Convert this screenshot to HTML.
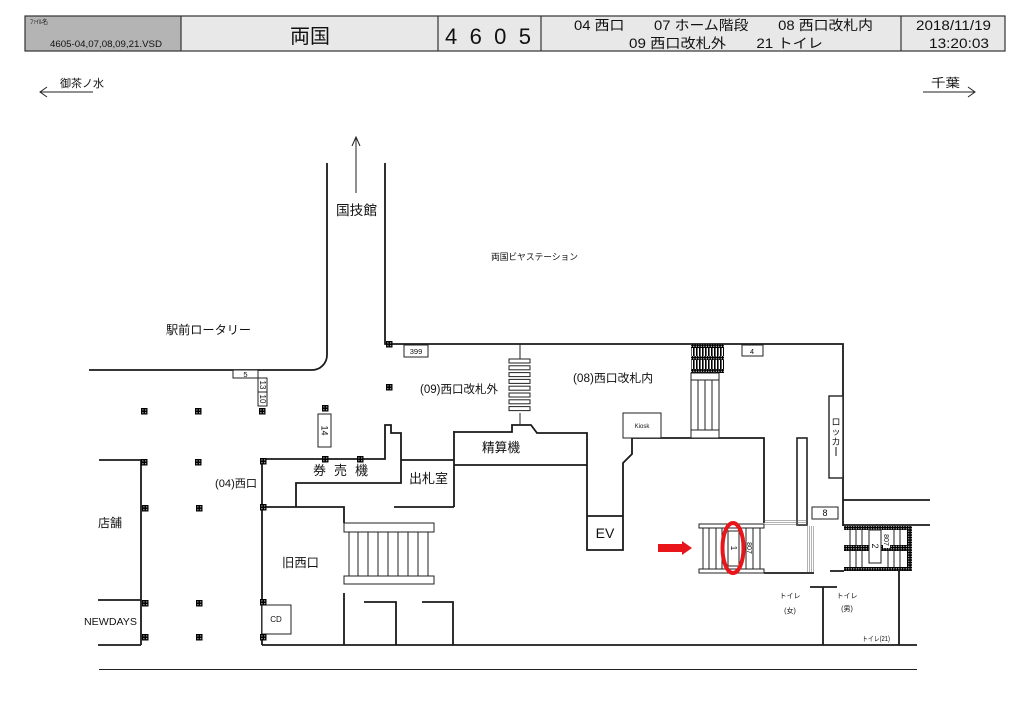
<!DOCTYPE html>
<html>
<head>
<meta charset="utf-8">
<style>
html,body{margin:0;padding:0;background:#fff;}
svg{display:block;}
text{font-family:"Liberation Sans","Noto Sans CJK JP",sans-serif;fill:#111;}
</style>
</head>
<body>
<svg width="1024" height="724" viewBox="0 0 1024 724" xmlns="http://www.w3.org/2000/svg">
<defs>
<pattern id="hatch" width="2.5" height="2.5" patternUnits="userSpaceOnUse"><rect width="2.5" height="2.5" fill="#000"/><rect x="0.8" y="0.8" width="1" height="1" fill="#fff"/></pattern>
<pattern id="vstripe" width="3" height="3" patternUnits="userSpaceOnUse"><rect width="3" height="3" fill="#fff"/><rect width="1.6" height="3" fill="#000"/></pattern>
<g id="pil"><rect x="-3" y="-3" width="6.5" height="6.5" fill="#000"/><rect x="-1.6" y="-1.6" width="1" height="1" fill="#fff"/><rect x="1.2" y="-1.6" width="1" height="1" fill="#fff"/><rect x="-1.6" y="1.2" width="1" height="1" fill="#fff"/><rect x="1.2" y="1.2" width="1" height="1" fill="#fff"/></g>
</defs>

<!-- Header -->
<rect x="25" y="16" width="156" height="35" fill="#b4b4b4"/>
<rect x="181" y="16" width="824" height="35" fill="#e8e8e8"/>
<g fill="none" stroke="#333" stroke-width="1.2">
<rect x="25" y="16" width="980" height="35"/>
<line x1="181" y1="16" x2="181" y2="51"/>
<line x1="438" y1="16" x2="438" y2="51"/>
<line x1="541" y1="16" x2="541" y2="51"/>
<line x1="901" y1="16" x2="901" y2="51"/>
</g>
<text x="30" y="24" font-size="6">ﾌｧｲﾙ名</text>
<text x="50" y="47" font-size="9" textLength="112" lengthAdjust="spacingAndGlyphs">4605-04,07,08,09,21.VSD</text>
<text x="310" y="43" font-size="20" text-anchor="middle">両国</text>
<text x="445" y="44" font-size="22" textLength="86" lengthAdjust="spacing">4605</text>
<text x="574" y="30" font-size="13.5" textLength="299" lengthAdjust="spacingAndGlyphs">04 西口　　07 ホーム階段　　08 西口改札内</text>
<text x="629" y="48" font-size="13.5" textLength="194" lengthAdjust="spacingAndGlyphs">09 西口改札外　　21 トイレ</text>
<text x="916" y="30" font-size="13.5" textLength="75" lengthAdjust="spacingAndGlyphs">2018/11/19</text>
<text x="929" y="48" font-size="13.5" textLength="60" lengthAdjust="spacingAndGlyphs">13:20:03</text>

<!-- Direction arrows -->
<g fill="none" stroke="#222" stroke-width="1">
<path d="M40,92 H93 M47,87 L40,92 L47,97"/>
<path d="M923,92 H975 M968,87 L975,92 L968,97"/>
<path d="M356,193 V137 M352,146 L356,137 L360,146"/>
<path d="M99,669.5 H917"/>
</g>
<text x="60" y="87" font-size="11" textLength="44" lengthAdjust="spacingAndGlyphs">御茶ノ水</text>
<text x="931" y="87" font-size="12" textLength="29" lengthAdjust="spacingAndGlyphs">千葉</text>
<text x="336" y="215" font-size="13.5" textLength="41" lengthAdjust="spacingAndGlyphs">国技館</text>
<text x="491" y="260" font-size="9" textLength="87" lengthAdjust="spacingAndGlyphs">両国ビヤステーション</text>
<text x="166" y="334" font-size="12" textLength="85" lengthAdjust="spacingAndGlyphs">駅前ロータリー</text>

<!-- Main walls -->
<g fill="none" stroke="#1a1a1a" stroke-width="1.8">
<path d="M327,163 V355 A15,15 0 0 1 312,370 H89"/>
<path d="M385,163 V344 H843 V526"/>
<path d="M843,500 H930 M843,525 H930"/>
<path d="M99,460 H141 V645 M98,600 H141 M98,645 H141"/>
<path d="M262,645 V459 H385 V425 H391 V433 H401 V483 H296 V507"/>
<path d="M262,507 H344 V523"/>
<path d="M401,460 H454 M454,431 V507 M394,507 H454"/>
<path d="M454,432 H512 V425 H531 L537,433 H587 V550 H623 V463 L632,454 V438 H764 V523"/>
<path d="M454,465 H587 M587,516 H623"/>
<path d="M262,645 H917"/>
<path d="M344,593 V645 M364,602 H396 V645 M422,602 H453 V645"/>
<path d="M899,571 V645 M830,571 H844"/>
<path d="M810,587 H837 M823,587 V645"/>
<path d="M764,573 H814"/>
</g>

<!-- thin boxes -->
<g fill="#fff" stroke="#222" stroke-width="1">
<rect x="623" y="413" width="38" height="25"/>
<rect x="797" y="438" width="10" height="87" stroke-width="1.6"/>
<rect x="404" y="345" width="24" height="12"/>
<rect x="742" y="345" width="21" height="11"/>
<rect x="233" y="370" width="25" height="8"/>
<rect x="258" y="378" width="9" height="14"/>
<rect x="258" y="392" width="9" height="14"/>
<rect x="318" y="414" width="13" height="33"/>
<rect x="812" y="507" width="26" height="12"/>
<rect x="829" y="396" width="14" height="82" stroke-width="1.4"/>
<rect x="262" y="605" width="29" height="29"/>
</g>
<text x="642" y="428" font-size="6" text-anchor="middle">Kiosk</text>
<text x="416" y="354" font-size="7.5" text-anchor="middle">399</text>
<text x="752" y="354" font-size="7.5" text-anchor="middle">4</text>
<text x="245.5" y="377" font-size="7.5" text-anchor="middle">5</text>
<text x="825" y="516" font-size="9" text-anchor="middle">8</text>
<text x="276" y="622" font-size="8" text-anchor="middle">CD</text>
<text x="605" y="538" font-size="14" text-anchor="middle">EV</text>
<text font-size="8" text-anchor="middle" transform="translate(260,385) rotate(90)">13</text>
<text font-size="8" text-anchor="middle" transform="translate(260,399) rotate(90)">10</text>
<text font-size="9" text-anchor="middle" transform="translate(321.5,430.5) rotate(90)">14</text>
<text x="836" y="425" font-size="9" text-anchor="middle">ロ</text>
<text x="836" y="435" font-size="9" text-anchor="middle">ッ</text>
<text x="836" y="445" font-size="9" text-anchor="middle">カ</text>
<line x1="836" y1="447" x2="836" y2="456" stroke="#111" stroke-width="1"/>

<!-- Gate column -->
<g stroke="#222" stroke-width="1">
<line x1="520" y1="344" x2="520" y2="359"/>
<line x1="520" y1="413" x2="520" y2="425"/>
<g fill="#fff">
<rect x="509" y="359" width="21" height="4"/>
<rect x="509" y="365.8" width="21" height="4"/>
<rect x="509" y="372.6" width="21" height="4"/>
<rect x="509" y="379.4" width="21" height="4"/>
<rect x="509" y="386.2" width="21" height="4"/>
<rect x="509" y="393" width="21" height="4"/>
<rect x="509" y="399.8" width="21" height="4"/>
<rect x="509" y="406.6" width="21" height="4"/>
</g>
</g>

<!-- Top-right escalator/stairs -->
<rect x="691" y="344" width="33" height="29" fill="url(#vstripe)"/>
<rect x="691" y="344" width="33" height="4" fill="url(#hatch)"/>
<rect x="691" y="356" width="33" height="4" fill="url(#hatch)"/>
<rect x="691" y="369" width="33" height="4" fill="url(#hatch)"/>
<g fill="#fff" stroke="#222" stroke-width="1">
<rect x="691" y="373" width="28" height="65"/>
<rect x="691" y="373" width="28" height="7"/>
<rect x="691" y="430" width="28" height="8"/>
<path d="M698,380 V430 M705,380 V430 M712,380 V430" fill="none"/>
</g>

<!-- Old west exit stairs -->
<g fill="#fff" stroke="#222" stroke-width="1">
<rect x="344" y="523" width="90" height="9"/>
<rect x="344" y="576" width="90" height="8"/>
<path d="M349,532 V576 M358,532 V576 M368,532 V576 M378,532 V576 M388,532 V576 M398,532 V576 M408,532 V576 M418,532 V576 M428,532 V576" fill="none"/>
</g>

<!-- Stairs 1 -->
<g fill="#fff" stroke="#222" stroke-width="1">
<rect x="699" y="524" width="65" height="4"/>
<rect x="699" y="569" width="65" height="4"/>
<path d="M703,528 V569 M709,528 V569 M716,528 V569 M722,528 V569 M746,528 V569 M753,528 V569 M760,528 V569" fill="none"/>
<rect x="728" y="531" width="11" height="35"/>
</g>
<g stroke="#666" stroke-width="0.5" fill="none">
<path d="M764,520.5 H807 M764,522.5 H807 M764,524.5 H807"/>
<path d="M807.5,526 V572 M809.5,526 V572 M811.5,526 V572 M813.5,526 V572"/>
</g>
<text font-size="8" text-anchor="middle" transform="translate(731,548) rotate(90)">1</text>
<text font-size="7" text-anchor="middle" transform="translate(747,548) rotate(90)">807</text>
<ellipse cx="733" cy="548" rx="10.5" ry="25" fill="none" stroke="#e8161b" stroke-width="4"/>
<polygon points="658,544 682,544 682,541 692,548 682,555 682,552 658,552" fill="#e8161b"/>

<!-- Stairs 2 -->
<rect x="844" y="526" width="68" height="45" fill="#fff"/>
<g stroke="#222" stroke-width="1">
<path d="M850,530 V567 M856,530 V567 M862,530 V567 M888,530 V567 M894,530 V567 M900,530 V567"/>
</g>
<rect x="844" y="526" width="68" height="4" fill="url(#hatch)"/>
<rect x="844" y="567" width="68" height="4" fill="url(#hatch)"/>
<rect x="907" y="526" width="5" height="45" fill="url(#hatch)"/>
<rect x="844" y="545" width="64" height="6" fill="url(#hatch)"/>
<rect x="869" y="530" width="12" height="33" fill="#fff" stroke="#222" stroke-width="1"/>
<rect x="883" y="530" width="7" height="18" fill="#fff"/>
<text font-size="9" text-anchor="middle" transform="translate(872,546) rotate(90)">2</text>
<text font-size="7" text-anchor="middle" transform="translate(884,540) rotate(90)">807</text>

<!-- Toilet labels -->
<text x="790" y="598" font-size="7" text-anchor="middle">トイレ</text>
<text x="790" y="613" font-size="7" text-anchor="middle">(女)</text>
<text x="847" y="598" font-size="7" text-anchor="middle">トイレ</text>
<text x="847" y="611" font-size="7" text-anchor="middle">(男)</text>
<text x="862" y="641" font-size="7" textLength="28" lengthAdjust="spacingAndGlyphs">トイレ(21)</text>

<!-- Map labels -->
<text x="420" y="393" font-size="11.5" textLength="78" lengthAdjust="spacingAndGlyphs">(09)西口改札外</text>
<text x="573" y="382" font-size="11.5" textLength="80" lengthAdjust="spacingAndGlyphs">(08)西口改札内</text>
<text x="482" y="452" font-size="13" textLength="38" lengthAdjust="spacingAndGlyphs">精算機</text>
<text x="313" y="475" font-size="13" textLength="55" lengthAdjust="spacing">券売機</text>
<text x="409" y="483" font-size="13" textLength="39" lengthAdjust="spacingAndGlyphs">出札室</text>
<text x="215" y="487" font-size="11" textLength="42" lengthAdjust="spacingAndGlyphs">(04)西口</text>
<text x="282" y="567" font-size="12.5" textLength="37" lengthAdjust="spacingAndGlyphs">旧西口</text>
<text x="98" y="527" font-size="12" textLength="24" lengthAdjust="spacingAndGlyphs">店舗</text>
<text x="84" y="625" font-size="10" textLength="53" lengthAdjust="spacingAndGlyphs">NEWDAYS</text>

<!-- Pillars -->
<use href="#pil" x="389" y="344"/>
<use href="#pil" x="389" y="387"/>
<use href="#pil" x="144" y="411"/>
<use href="#pil" x="198" y="411"/>
<use href="#pil" x="262" y="411"/>
<use href="#pil" x="325" y="408"/>
<use href="#pil" x="144" y="462"/>
<use href="#pil" x="198" y="462"/>
<use href="#pil" x="263" y="461"/>
<use href="#pil" x="325" y="459"/>
<use href="#pil" x="360" y="459"/>
<use href="#pil" x="145" y="508"/>
<use href="#pil" x="199" y="508"/>
<use href="#pil" x="263" y="507"/>
<use href="#pil" x="145" y="603"/>
<use href="#pil" x="199" y="603"/>
<use href="#pil" x="263" y="602"/>
<use href="#pil" x="145" y="637"/>
<use href="#pil" x="199" y="637"/>
<use href="#pil" x="263" y="637"/>
</svg>
</body>
</html>
